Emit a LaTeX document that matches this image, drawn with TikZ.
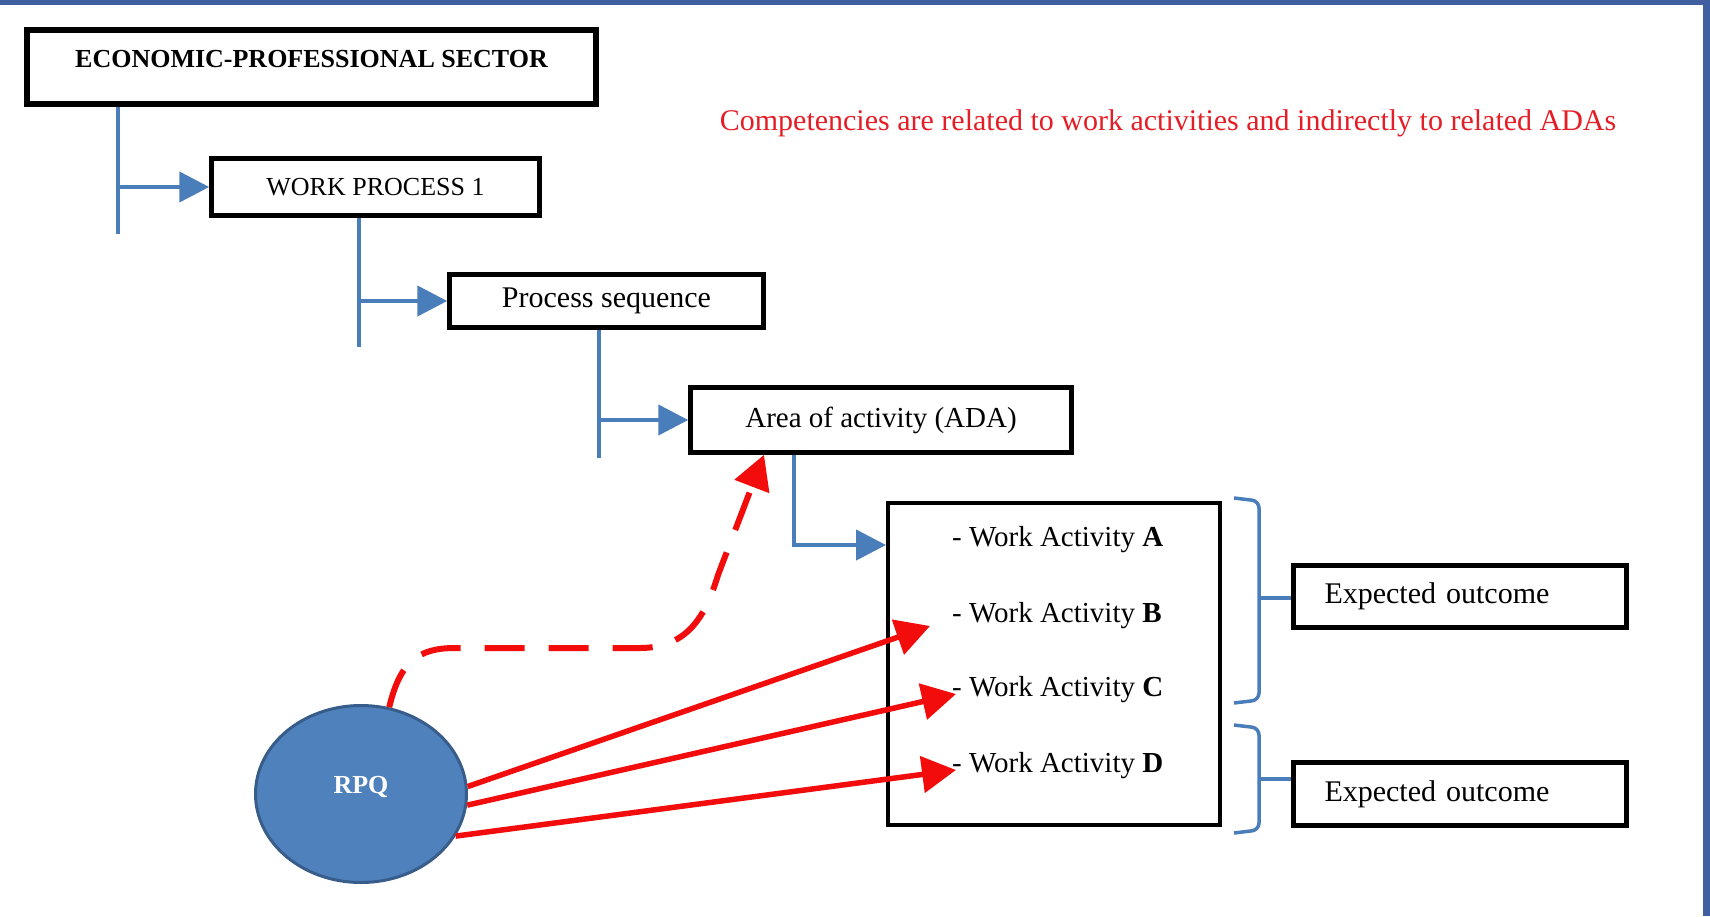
\documentclass[tikz,border=0pt]{standalone}
\usepackage{fontspec}
\setmainfont{Liberation Serif}
\usetikzlibrary{arrows.meta,shapes.geometric}

\definecolor{framebar}{RGB}{63,95,160}
\definecolor{treeblue}{RGB}{74,126,187}
\definecolor{rpqfill}{RGB}{79,129,189}
\definecolor{rpqedge}{RGB}{56,93,138}
\definecolor{notered}{RGB}{228,30,38}
\definecolor{linkred}{RGB}{242,12,12}

\tikzset{
    box/.style = {draw = black, line width = 4.5pt, inner sep = 0pt, font = \fontsize{29}{34}\selectfont},
    tree/.style = {draw = treeblue, line width = 4.5pt},
    treearrow/.style = {tree, -{Triangle[length = 30pt, width = 30pt]}},
    link/.style = {draw = linkred, line width = 5.5pt, -{Triangle[length = 34pt, width = 36pt]}},
    brace/.style = {draw = treeblue, line width = 3.5pt, rounded corners = 7pt},
    item/.style = {anchor = west, inner sep = 0pt, font = \fontsize{29}{34}\selectfont}
}

\begin{document}
\begin{tikzpicture}[x = 1pt, y = 1pt]
    \useasboundingbox (0,0) rectangle (1710,-916);
    \fill[framebar] (0,0) rectangle (1710,-5);
    \fill[framebar] (1703,0) rectangle (1710,-916);

    \node[box, line width = 6.5pt, minimum width = 569pt, minimum height = 74pt,
        font = \bfseries\fontsize{26}{31}\selectfont, text depth = 16pt] (eps) at (311.5,-67)
        {ECONOMIC-PROFESSIONAL SECTOR};
    \node[box, minimum width = 328pt, minimum height = 57pt,
        font = \fontsize{26}{31}\selectfont] (wp) at (375.5,-187) {WORK PROCESS 1};
    \node[box, minimum width = 314pt, minimum height = 53pt,
        font = \fontsize{30}{36}\selectfont] (ps) at (606.5,-301) {Process sequence};
    \node[box, minimum width = 381pt, minimum height = 65pt] (ada) at (881,-420)
        {Area of activity (ADA)};
    \node[box, line width = 4pt, minimum width = 332pt, minimum height = 322pt] (wa) at (1054,-664) {};
    \node[item] (wa-a) at (952,-540) {- Work Activity \textbf{A}};
    \node[item] (wa-b) at (952,-616) {- Work Activity \textbf{B}};
    \node[item] (wa-c) at (952,-690) {- Work Activity \textbf{C}};
    \node[item] (wa-d) at (952,-766) {- Work Activity \textbf{D}};
    \node[box, minimum width = 333pt, minimum height = 62pt, text width = 271pt, align = left,
        font = \fontsize{30}{36}\selectfont] (eo1) at (1460,-596.5) {Expected outcome};
    \node[box, minimum width = 333pt, minimum height = 63pt, text width = 271pt, align = left,
        font = \fontsize{30}{36}\selectfont] (eo2) at (1460,-794) {Expected outcome};
    \node[ellipse, fill = rpqfill, draw = rpqedge, line width = 3pt, minimum width = 211pt,
        minimum height = 177pt, text = white, text depth = 18pt, font = \bfseries\fontsize{26}{31}\selectfont]
        (rpq) at (361,-794) {RPQ};
    \node[inner sep = 0pt, text = notered, font = \fontsize{30}{36}\selectfont] (note) at (1168,-123)
        {Competencies are related to work activities and indirectly to related ADAs};

    \coordinate (t1) at (118,-234);
    \coordinate (t2) at (359,-347);
    \coordinate (t3) at (599,-458);
    \coordinate (t4) at (794,-545);
    \draw[tree] (t1 |- eps.south) -- (t1);
    \draw[treearrow] (t1 |- wp.west) -- (wp.west);
    \draw[tree] (t2 |- wp.south) -- (t2);
    \draw[treearrow] (t2 |- ps.west) -- (ps.west);
    \draw[tree] (t3 |- ps.south) -- (t3);
    \draw[treearrow] (t3 |- ada.west) -- (ada.west);
    \draw[treearrow] (t4 |- ada.south) |- (wa.west |- t4);

    \draw[brace] (1234,-498) -- (1259,-501) -- (1259,-700) -- (1234,-703);
    \draw[brace] (1234,-725) -- (1259,-728) -- (1259,-830) -- (1234,-833);
    \coordinate (b1) at (1259,-598);
    \coordinate (b2) at (1259,-779);
    \draw[brace] (b1) -- (b1 -| eo1.west);
    \draw[brace] (b2) -- (b2 -| eo2.west);

    \draw[link] (rpq.4) -- ([shift = {(-22pt,-10pt)}]wa-b.west);
    \draw[link] (rpq.-6) -- ([shift = {(4pt,-4pt)}]wa-c.west);
    \draw[link] (rpq.-24) -- ([shift = {(4pt,-4pt)}]wa-d.west);
    \draw[link, line width = 6pt, dash pattern = on 40pt off 24pt] (rpq.72) .. controls (400,-662) and (418,-648) .. (455,-648)
        -- (640,-648) .. controls (688,-648) and (706,-615) .. (718,-575) -- ([xshift = -117pt]ada.south);
\end{tikzpicture}
\end{document}
